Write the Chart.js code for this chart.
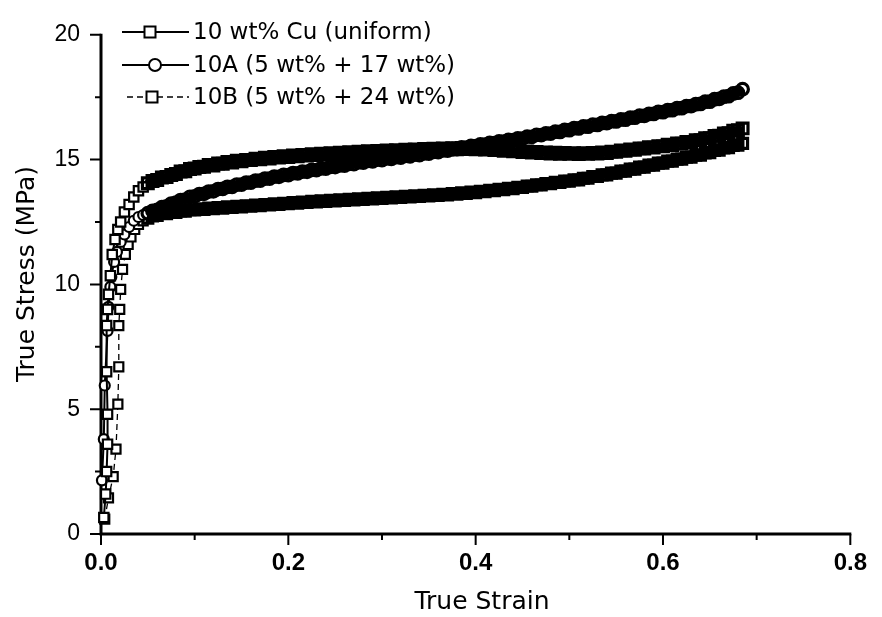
<!DOCTYPE html>
<html>
<head>
<meta charset="utf-8">
<script src="https://cdn.jsdelivr.net/npm/chart.js@4.4.0/dist/chart.umd.min.js"></script>
<style>
  html, body { margin: 0; padding: 0; background: #ffffff; }
  #wrap { width: 882px; height: 617px; }
</style>
</head>
<body>
<div id="wrap"><canvas id="c" width="882" height="617"></canvas></div>
<script>
// Series names shown in the key
const seriesNames = ['10 wt% Cu (uniform)', '10A (5 wt% + 17 wt%)', '10B (5 wt% + 24 wt%)'];

// Elastic / yield portion (strain, stress in MPa) for each sample
const uniformEarlyStrain = [0.003, 0.005, 0.006, 0.007, 0.007, 0.006, 0.006, 0.007, 0.008, 0.010, 0.012, 0.015, 0.018, 0.021, 0.025, 0.030, 0.035, 0.040, 0.045];
const uniformEarlyStress = [0.66, 1.6, 2.5, 3.6, 4.8, 6.5, 8.35, 9.0, 9.6, 10.35, 11.2, 11.8, 12.2, 12.5, 12.9, 13.2, 13.5, 13.75, 13.9];

const sampleAEarlyStrain = [0.001, 0.003, 0.004, 0.007, 0.008, 0.010, 0.011, 0.014, 0.017, 0.021, 0.025, 0.030, 0.035, 0.040, 0.045];
const sampleAEarlyStress = [2.15, 3.8, 5.95, 8.14, 9.1, 9.9, 10.3, 10.9, 11.3, 11.7, 12.0, 12.3, 12.55, 12.7, 12.78];

const sampleBEarlyStrain = [0.004, 0.008, 0.013, 0.016, 0.018, 0.019, 0.019, 0.020, 0.021, 0.023, 0.026, 0.029, 0.032, 0.036, 0.040, 0.045];
const sampleBEarlyStress = [0.6, 1.45, 2.3, 3.4, 5.2, 6.7, 8.35, 9.0, 9.8, 10.6, 11.2, 11.6, 11.9, 12.2, 12.4, 12.55];

// Plastic flow portion: common strain readings
const plasticStrain = [
  0.050, 0.055, 0.060, 0.065, 0.070, 0.075, 0.080, 0.085, 0.090, 0.095,
  0.100, 0.105, 0.110, 0.115, 0.120, 0.125, 0.130, 0.135, 0.140, 0.145,
  0.150, 0.155, 0.160, 0.165, 0.170, 0.175, 0.180, 0.185, 0.190, 0.195,
  0.200, 0.205, 0.210, 0.215, 0.220, 0.225, 0.230, 0.235, 0.240, 0.245,
  0.250, 0.255, 0.260, 0.265, 0.270, 0.275, 0.280, 0.285, 0.290, 0.295,
  0.300, 0.305, 0.310, 0.315, 0.320, 0.325, 0.330, 0.335, 0.340, 0.345,
  0.350, 0.355, 0.360, 0.365, 0.370, 0.375, 0.380, 0.385, 0.390, 0.395,
  0.400, 0.405, 0.410, 0.415, 0.420, 0.425, 0.430, 0.435, 0.440, 0.445,
  0.450, 0.455, 0.460, 0.465, 0.470, 0.475, 0.480, 0.485, 0.490, 0.495,
  0.500, 0.505, 0.510, 0.515, 0.520, 0.525, 0.530, 0.535, 0.540, 0.545,
  0.550, 0.555, 0.560, 0.565, 0.570, 0.575, 0.580, 0.585, 0.590, 0.595,
  0.600, 0.605, 0.610, 0.615, 0.620, 0.625, 0.630, 0.635, 0.640, 0.645,
  0.650, 0.655, 0.660, 0.665, 0.670, 0.675, 0.680, 0.685
];

const uniformStress = [
  14.05, 14.14, 14.18, 14.28, 14.30, 14.38, 14.42, 14.52, 14.53, 14.62,
  14.64, 14.70, 14.71, 14.78, 14.76, 14.84, 14.83, 14.90, 14.88, 14.95,
  14.93, 14.99, 14.98, 15.04, 15.01, 15.08, 15.04, 15.11, 15.08, 15.14,
  15.10, 15.17, 15.13, 15.19, 15.16, 15.22, 15.18, 15.24, 15.20, 15.26,
  15.22, 15.28, 15.24, 15.30, 15.26, 15.32, 15.28, 15.34, 15.30, 15.35,
  15.31, 15.37, 15.33, 15.38, 15.34, 15.40, 15.36, 15.41, 15.37, 15.43,
  15.38, 15.44, 15.39, 15.45, 15.40, 15.46, 15.41, 15.47, 15.42, 15.46,
  15.41, 15.45, 15.40, 15.43, 15.38, 15.41, 15.35, 15.38, 15.33, 15.35,
  15.30, 15.33, 15.28, 15.31, 15.26, 15.29, 15.24, 15.28, 15.23, 15.27,
  15.23, 15.26, 15.22, 15.26, 15.23, 15.27, 15.24, 15.29, 15.26, 15.32,
  15.31, 15.37, 15.35, 15.41, 15.39, 15.45, 15.44, 15.50, 15.48, 15.54,
  15.53, 15.60, 15.58, 15.65, 15.64, 15.71, 15.70, 15.78, 15.78, 15.86,
  15.86, 15.95, 15.96, 16.05, 16.06, 16.16, 16.18, 16.25
];

const sampleAStress = [
  12.85, 12.94, 12.98, 13.09, 13.13, 13.24, 13.28, 13.38, 13.40, 13.51,
  13.53, 13.62, 13.63, 13.72, 13.73, 13.82, 13.83, 13.91, 13.91, 14.00,
  14.00, 14.08, 14.08, 14.16, 14.16, 14.24, 14.24, 14.32, 14.31, 14.39,
  14.38, 14.46, 14.45, 14.52, 14.51, 14.59, 14.58, 14.65, 14.64, 14.71,
  14.70, 14.77, 14.76, 14.83, 14.82, 14.89, 14.88, 14.95, 14.93, 15.00,
  14.98, 15.05, 15.03, 15.10, 15.08, 15.15, 15.13, 15.20, 15.18, 15.25,
  15.24, 15.31, 15.30, 15.37, 15.36, 15.43, 15.42, 15.49, 15.48, 15.55,
  15.54, 15.61, 15.60, 15.67, 15.66, 15.73, 15.72, 15.79, 15.78, 15.85,
  15.84, 15.92, 15.91, 15.99, 15.98, 16.05, 16.04, 16.12, 16.11, 16.19,
  16.18, 16.26, 16.25, 16.33, 16.32, 16.40, 16.39, 16.47, 16.46, 16.54,
  16.53, 16.61, 16.60, 16.68, 16.68, 16.76, 16.75, 16.83, 16.83, 16.91,
  16.90, 16.98, 16.98, 17.06, 17.06, 17.14, 17.14, 17.22, 17.23, 17.32,
  17.32, 17.42, 17.43, 17.52, 17.54, 17.65, 17.68, 17.82
];

const sampleBStress = [
  12.65, 12.74, 12.76, 12.84, 12.83, 12.89, 12.88, 12.94, 12.93, 12.99,
  12.98, 13.03, 13.00, 13.06, 13.03, 13.08, 13.05, 13.11, 13.08, 13.13,
  13.10, 13.15, 13.13, 13.18, 13.15, 13.20, 13.18, 13.23, 13.20, 13.25,
  13.23, 13.28, 13.25, 13.30, 13.28, 13.33, 13.30, 13.35, 13.32, 13.37,
  13.34, 13.39, 13.36, 13.41, 13.38, 13.43, 13.40, 13.45, 13.42, 13.47,
  13.44, 13.49, 13.46, 13.51, 13.48, 13.53, 13.50, 13.55, 13.52, 13.57,
  13.54, 13.59, 13.56, 13.61, 13.58, 13.64, 13.61, 13.67, 13.64, 13.70,
  13.67, 13.73, 13.71, 13.77, 13.75, 13.81, 13.79, 13.85, 13.83, 13.89,
  13.88, 13.94, 13.93, 13.99, 13.98, 14.04, 14.03, 14.09, 14.08, 14.14,
  14.13, 14.19, 14.18, 14.25, 14.25, 14.32, 14.32, 14.39, 14.39, 14.46,
  14.46, 14.54, 14.54, 14.62, 14.62, 14.70, 14.70, 14.78, 14.78, 14.86,
  14.86, 14.94, 14.94, 15.02, 15.02, 15.10, 15.10, 15.18, 15.18, 15.27,
  15.28, 15.37, 15.38, 15.47, 15.48, 15.57, 15.58, 15.65
];

// Axis ticks
const xMajorTicks = [0, 0.2, 0.4, 0.6, 0.8];
const xMinorTicks = [0.1, 0.3, 0.5, 0.7];
const yMajorTicks = [0, 5, 10, 15, 20];
const yMinorTicks = [2.5, 7.5, 12.5, 17.5];

function toPoints(strain, stress) {
  return strain.map((s, i) => ({ x: s, y: stress[i] }));
}

const curveUniform = toPoints(uniformEarlyStrain, uniformEarlyStress).concat(toPoints(plasticStrain, uniformStress));
const curveA = toPoints(sampleAEarlyStrain, sampleAEarlyStress).concat(toPoints(plasticStrain, sampleAStress));
const curveB = toPoints(sampleBEarlyStrain, sampleBEarlyStress).concat(toPoints(plasticStrain, sampleBStress));

const TITLE_FONT = '"DejaVu Sans", "Liberation Sans", Arial, sans-serif';
const TICK_FONT = '"Liberation Sans", Arial, sans-serif';

// Axis lines and tick marks, drawn from the chart's scales
const framePlugin = {
  id: 'frame',
  beforeDatasetsDraw(chart) {
    const { ctx, chartArea: a, scales: { x, y } } = chart;
    ctx.save();
    ctx.strokeStyle = '#000';
    ctx.lineWidth = 3;
    ctx.beginPath();
    ctx.moveTo(a.left, y.getPixelForValue(20) - 1);
    ctx.lineTo(a.left, a.bottom);
    ctx.lineTo(x.getPixelForValue(0.8) + 1, a.bottom);
    ctx.stroke();
    ctx.lineWidth = 2;
    ctx.beginPath();
    xMajorTicks.forEach(v => { const px = x.getPixelForValue(v); ctx.moveTo(px, a.bottom); ctx.lineTo(px, a.bottom + 11); });
    xMinorTicks.forEach(v => { const px = x.getPixelForValue(v); ctx.moveTo(px, a.bottom); ctx.lineTo(px, a.bottom + 6); });
    yMajorTicks.forEach(v => { const py = y.getPixelForValue(v); ctx.moveTo(a.left, py); ctx.lineTo(a.left - 11, py); });
    yMinorTicks.forEach(v => { const py = y.getPixelForValue(v); ctx.moveTo(a.left, py); ctx.lineTo(a.left - 6, py); });
    ctx.stroke();
    ctx.restore();
  },
  afterDraw(chart) {
    const ctx = chart.ctx;
    ctx.save();
    ctx.fillStyle = '#000';
    ctx.font = '25px ' + TITLE_FONT;
    ctx.textAlign = 'center';
    ctx.textBaseline = 'middle';
    ctx.fillText('True Strain', 482, 602);
    ctx.translate(27, 274);
    ctx.rotate(-Math.PI / 2);
    ctx.fillText('True Stress (MPa)', 0, 0);
    ctx.restore();
  }
};

// Key in the upper left corner: line, marker, name
const keyPlugin = {
  id: 'key',
  afterDraw(chart) {
    const ctx = chart.ctx;
    const rows = [32, 65, 97];
    const lineStart = [122, 122, 127];
    const markerX = [150, 155, 152];
    chart.data.datasets.forEach((ds, i) => {
      const yy = rows[i];
      ctx.save();
      ctx.strokeStyle = '#000';
      ctx.lineWidth = ds.borderWidth;
      ctx.setLineDash(ds.borderDash || []);
      ctx.beginPath();
      ctx.moveTo(lineStart[i], yy);
      ctx.lineTo(189, yy);
      ctx.stroke();
      ctx.setLineDash([]);
      ctx.fillStyle = '#fff';
      ctx.lineWidth = 2;
      ctx.beginPath();
      if (ds.pointStyle === 'circle') {
        ctx.arc(markerX[i], yy, 6, 0, Math.PI * 2);
      } else {
        ctx.rect(markerX[i] - 5.5, yy - 5.5, 11, 11);
      }
      ctx.fill();
      ctx.stroke();
      ctx.fillStyle = '#000';
      ctx.font = '23px ' + TITLE_FONT;
      ctx.textAlign = 'left';
      ctx.textBaseline = 'middle';
      ctx.fillText(ds.label, 193, yy + 1);
      ctx.restore();
    });
  }
};

// Open markers: white-filled on the steep rise, hollow where readings crowd together
const PLASTIC_START = 0.048;
const inPlastic = ctx => ctx.raw && ctx.raw.x >= PLASTIC_START;
const markerFill = ctx => inPlastic(ctx) ? 'rgba(255,255,255,0)' : '#ffffff';
const markerStroke = ctx => inPlastic(ctx) ? 3.2 : 2.2;
const markerSize = (flowRadius, riseRadius) => ctx => inPlastic(ctx) ? flowRadius : riseRadius;

// Crowded markers merge into a dark band along the flow part of each curve
function bandSegment(thinWidth, thinDash) {
  return {
    borderWidth: ctx => ctx.p0.parsed.x >= 0.044 ? 8 : thinWidth,
    borderDash: ctx => ctx.p0.parsed.x >= 0.044 ? [] : thinDash
  };
}

const common = {
  borderColor: '#000',
  pointBorderColor: '#000',
  pointBackgroundColor: markerFill,
  pointBorderWidth: markerStroke,
  showLine: true,
  tension: 0,
  clip: false
};

new Chart(document.getElementById('c'), {
  type: 'line',
  data: {
    datasets: [
      Object.assign({}, common, { label: seriesNames[0], data: curveUniform, borderWidth: 2, pointStyle: 'rect', pointRadius: markerSize(7.6, 6.6), segment: bandSegment(2, []) }),
      Object.assign({}, common, { label: seriesNames[1], data: curveA, borderWidth: 2, pointStyle: 'circle', pointRadius: markerSize(5.8, 5.0), segment: bandSegment(2, []) }),
      Object.assign({}, common, { label: seriesNames[2], data: curveB, borderWidth: 1.3, borderDash: [6, 4], pointStyle: 'rect', pointRadius: markerSize(7.0, 6.4), segment: bandSegment(1.3, [6, 4]) })
    ]
  },
  options: {
    responsive: false,
    animation: false,
    devicePixelRatio: 1,
    layout: { padding: { top: 22, right: 19, bottom: 0, left: 0 } },
    plugins: { legend: { display: false }, tooltip: { enabled: false } },
    scales: {
      x: {
        type: 'linear', min: 0, max: 0.8,
        grid: { display: false, drawTicks: false },
        border: { display: false },
        afterBuildTicks: s => { s.ticks = xMajorTicks.map(v => ({ value: v })); },
        afterFit: s => { s.height = 83; },
        ticks: {
          color: '#000', padding: 15, maxRotation: 0, autoSkip: false,
          font: { family: TICK_FONT, size: 24, weight: 'bold' },
          callback: v => v.toFixed(1)
        }
      },
      y: {
        type: 'linear', min: 0, max: 20,
        grid: { display: false, drawTicks: false },
        border: { display: false },
        afterBuildTicks: s => { s.ticks = yMajorTicks.map(v => ({ value: v })); },
        afterFit: s => { s.width = 101; },
        ticks: {
          color: '#000', padding: 21, autoSkip: false,
          font: { family: TICK_FONT, size: 23 },
          callback: v => String(v)
        }
      }
    }
  },
  plugins: [framePlugin, keyPlugin]
});
</script>
</body>
</html>
